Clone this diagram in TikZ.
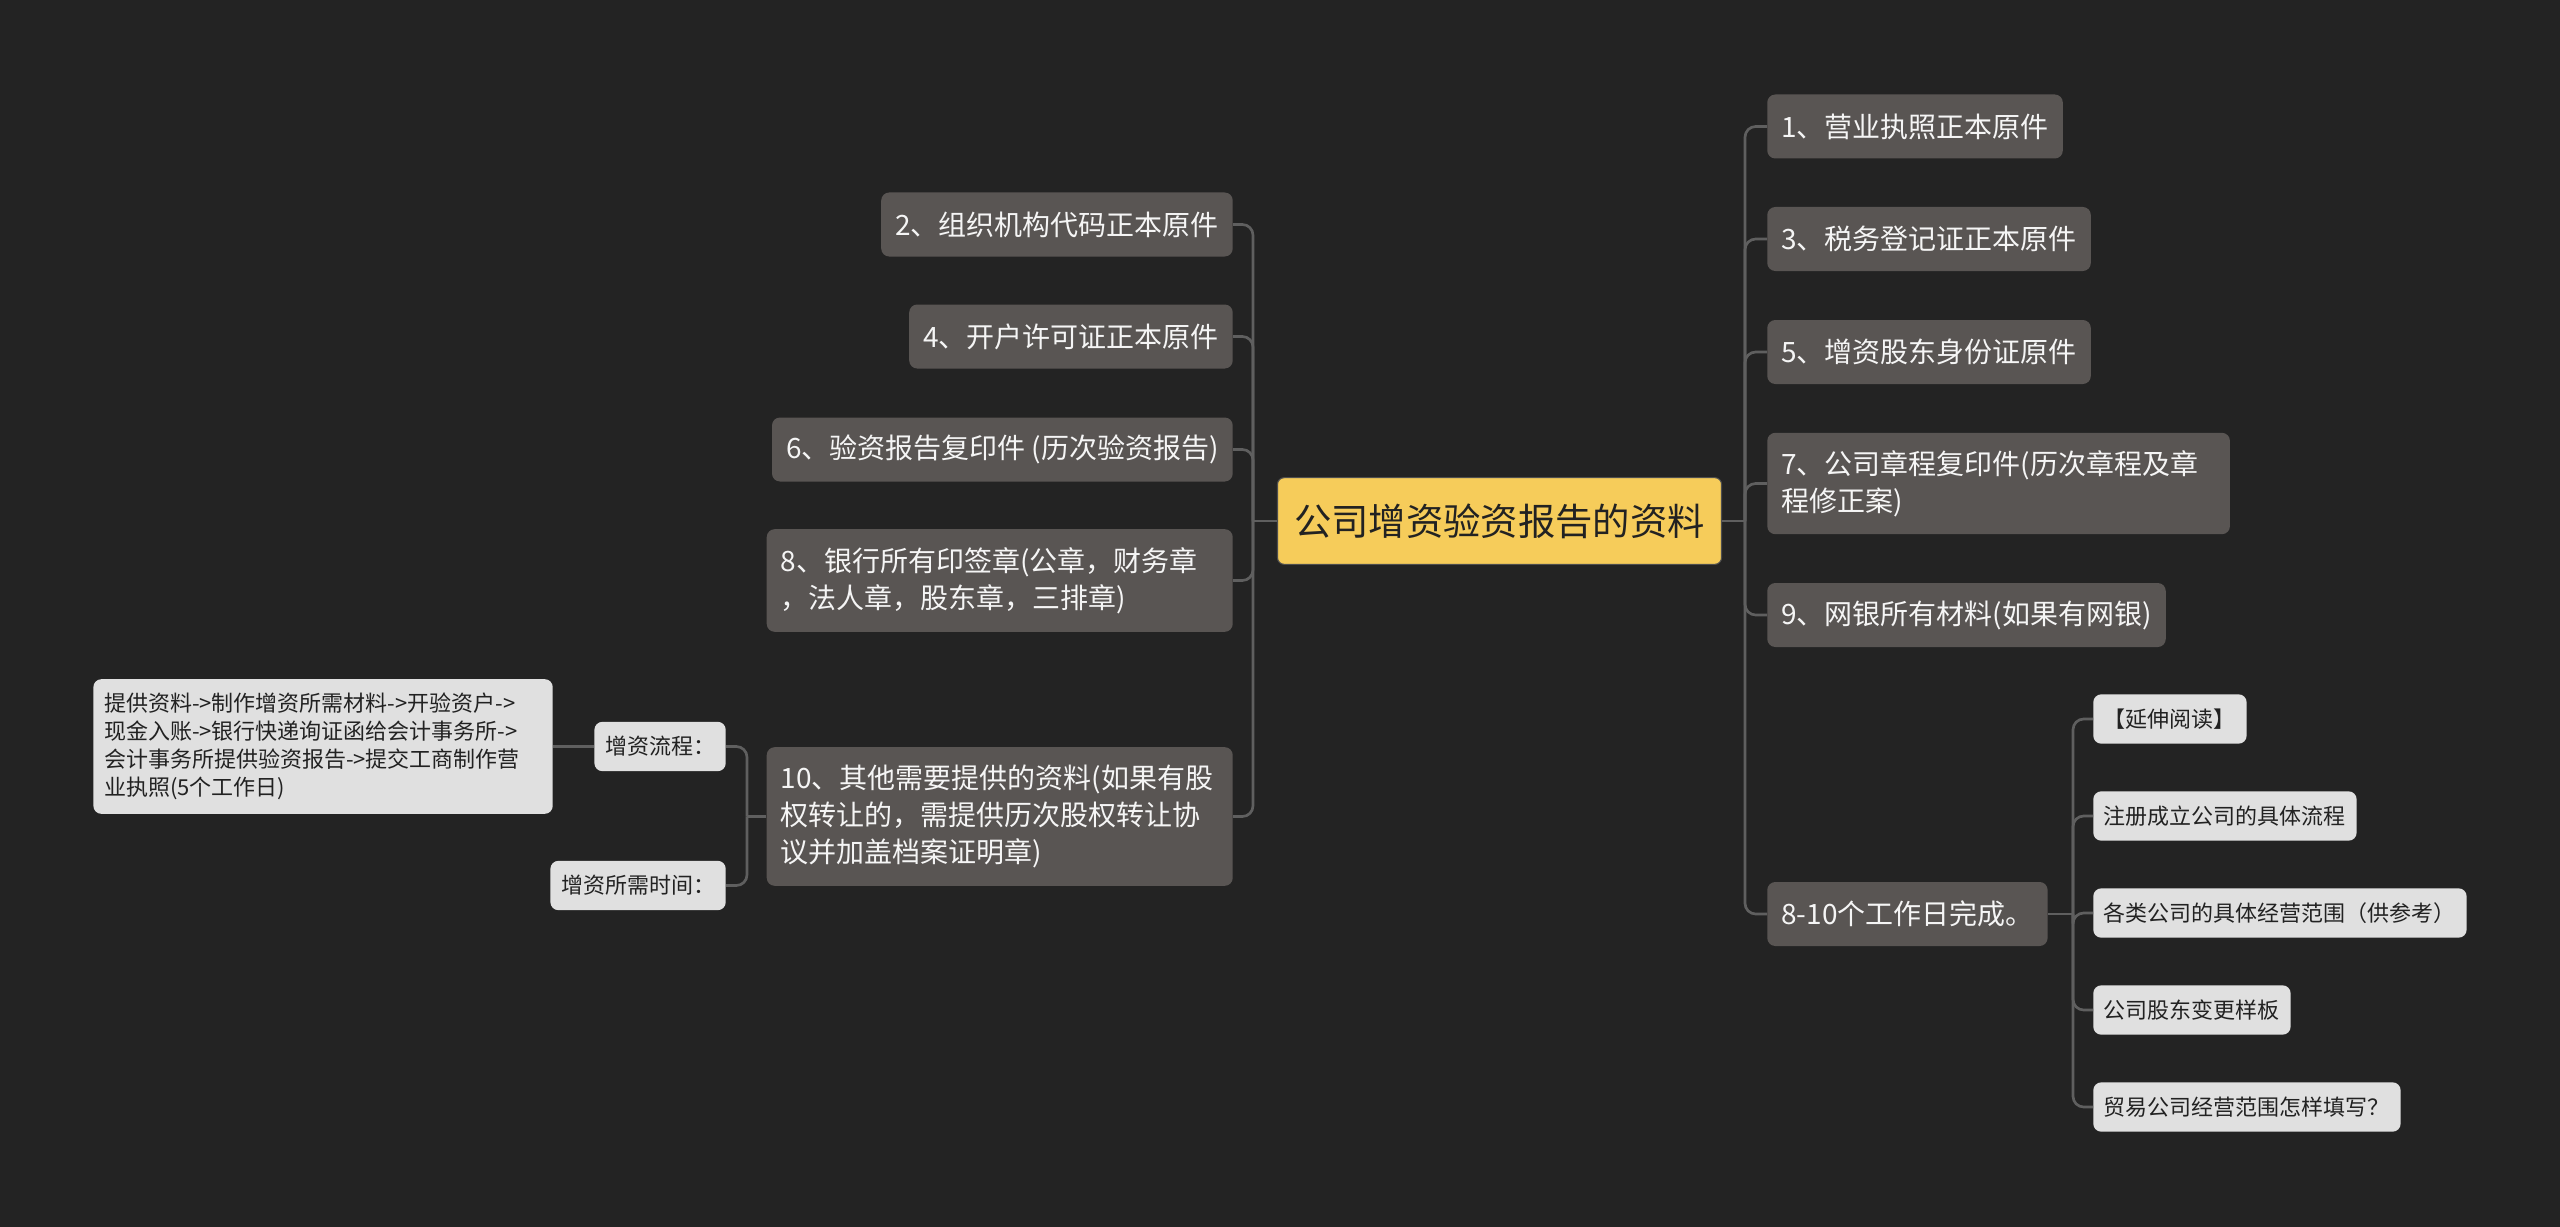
\documentclass[tikz,border=0pt]{standalone}
\usepackage{fontspec}
\newfontfamily\cjk{Noto Sans CJK SC}
\definecolor{bgdark}{RGB}{35,35,35}
\definecolor{nodegray}{RGB}{89,85,83}
\definecolor{leafgray}{RGB}{224,224,224}
\definecolor{linegray}{RGB}{95,95,95}
\definecolor{rootyellow}{RGB}{246,204,90}
\definecolor{inkdark}{RGB}{34,34,34}
\definecolor{inklight}{RGB}{245,245,245}

\begin{document}
\begin{tikzpicture}[x=0.75pt,y=-0.75pt]
		  \tikzset{
			root/.style={rounded corners=5pt,fill=rootyellow,draw=inkdark!80,line width=0.8pt,text=inkdark,
			  font=\cjk\fontsize{28}{34}\selectfont,inner xsep=12.5pt,minimum height=65pt},
			topic/.style={rounded corners=6pt,fill=nodegray,text=inklight,
			  font=\cjk\fontsize{21}{27.75}\selectfont,inner xsep=10.5pt,inner ysep=4pt,minimum height=48pt},
			leaf/.style={rounded corners=6pt,fill=leafgray,text=inkdark,
			  font=\cjk\fontsize{16.5}{21}\selectfont,inner xsep=8pt,inner ysep=3pt,minimum height=37pt},
			link/.style={draw=linegray,line width=2pt,rounded corners=8pt},
		  }
		  %BACKGROUND
		  \fill[bgdark] (0,0) rectangle (2560,1227);
		  \useasboundingbox (0,0) rectangle (2560,1227);
		  %ROOT
		  \node[root] (root) at (1499.5,521) {公司增资验资报告的资料};

		  %LEFT TOPICS
		  \node[topic,anchor=east] (t2) at (1233,224.5) {2、组织机构代码正本原件};
		  \node[topic,anchor=east] (t4) at (1233,336.5) {4、开户许可证正本原件};
		  \node[topic,anchor=east] (t6) at (1233,449.5) {6、验资报告复印件 (历次验资报告)};
		  \node[topic,anchor=east,text width=328.5pt,align=left,minimum height=77pt] (t8) at (1233,580.5)
			{8、银行所有印签章(公章，财务章\\，法人章，股东章，三排章)};
		  \node[topic,anchor=east,text width=328.5pt,align=left,minimum height=104pt] (t10) at (1233,816.5)
			{10、其他需要提供的资料(如果有股\\权转让的，需提供历次股权转让协\\议并加盖档案证明章)};
		  %LEAVES OF 10
		  \node[leaf,anchor=east] (flow) at (726,746.5) {增资流程：};
		  \node[leaf,anchor=east] (time) at (726,885.5) {增资所需时间：};
		  \node[leaf,anchor=east,text width=328.5pt,align=left,minimum height=101pt] (flowtext) at (553,746.5)
			{提供资料->制作增资所需材料->开验资户->\\现金入账->银行快递询证函给会计事务所->\\会计事务所提供验资报告->提交工商制作营\\业执照(5个工作日)};

		  %RIGHT TOPICS
		  \node[topic,anchor=west] (t1) at (1767,126.5) {1、营业执照正本原件};
		  \node[topic,anchor=west] (t3) at (1767,239) {3、税务登记证正本原件};
		  \node[topic,anchor=west] (t5) at (1767,352) {5、增资股东身份证原件};
		  \node[topic,anchor=west,text width=326pt,align=left,minimum height=76pt] (t7) at (1767,483.5)
			{7、公司章程复印件(历次章程及章\\程修正案)};
		  \node[topic,anchor=west] (t9) at (1767,615) {9、网银所有材料(如果有网银)};
		  \node[topic,anchor=west] (done) at (1767,914) {8-10个工作日完成。};
		  %LEAVES OF DONE
		  \foreach \txt [count=\i] in {【延伸阅读】,注册成立公司的具体流程,各类公司的具体经营范围（供参考）,公司股东变更样板,贸易公司经营范围怎样填写？}{
			\node[leaf,anchor=west] (r\i) at (2093,622+97*\i) {\txt};
		  }

		  %SPINES
		  \coordinate (lspine) at (1253,521);
		  \coordinate (rspine) at (1745,521);
		  \coordinate (subspine) at (747,816.5);
		  \coordinate (donespine) at (2073,914);
		  %LINKS LEFT
		  \draw[link] (root.west) -- (lspine);
		  \foreach \n in {t2,t4,t6,t8,t10}{
			\draw[link] (lspine) |- (\n.east);
		  }
		  \draw[link] (t10.west) -- (subspine);
		  \draw[link] (subspine) |- (flow.east);
		  \draw[link] (subspine) |- (time.east);
		  \draw[link] (flow.west) -- (flowtext.east);
		  %LINKS RIGHT
		  \draw[link] (root.east) -- (rspine);
		  \foreach \n in {t1,t3,t5,t7,t9,done}{
			\draw[link] (rspine) |- (\n.west);
		  }
		  \draw[link] (done.east) -- (donespine);
		  \foreach \i in {1,...,5}{
			\draw[link] (donespine) |- (r\i.west);
		  }
\end{tikzpicture}
\end{document}
